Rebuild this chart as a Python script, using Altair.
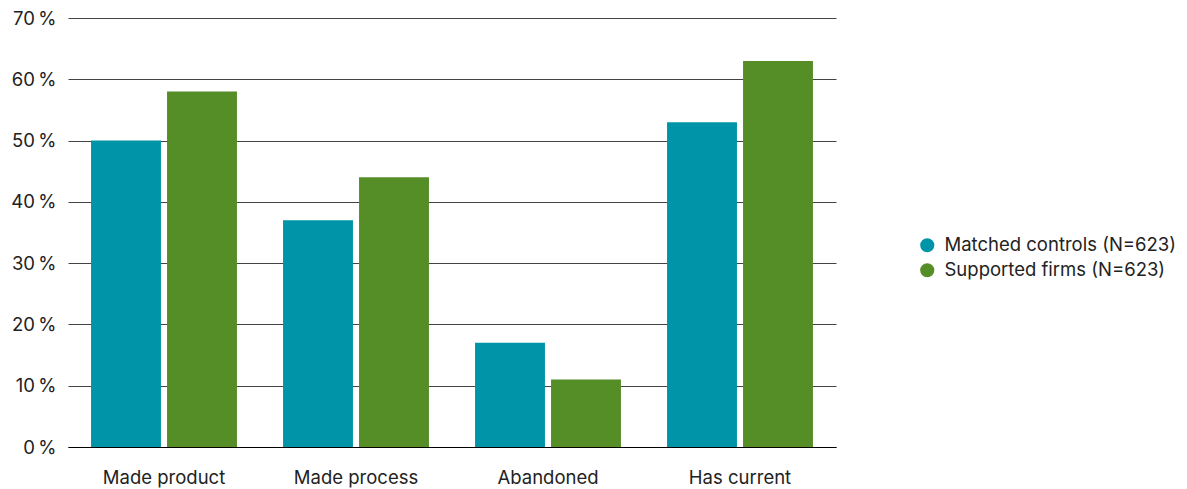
import altair as alt
import pandas as pd

categories = ["Made product", "Made process", "Abandoned", "Has current"]
series = ["Matched controls (N=623)", "Supported firms (N=623)"]
controls = [50, 37, 17, 53]
supported = [58, 44, 11, 63]
colors = ["#0094a8", "#558d27"]

rows = []
for cat, c, s in zip(categories, controls, supported):
    rows.append({"category": cat, "group": series[0], "value": c})
    rows.append({"category": cat, "group": series[1], "value": s})
df = pd.DataFrame(rows)

FONT = "Inter"

chart = (
    alt.Chart(df)
    .mark_bar()
    .encode(
        x=alt.X(
            "category:N",
            sort=categories,
            title=None,
            scale=alt.Scale(paddingInner=0.24, paddingOuter=0.12),
            axis=alt.Axis(
                labelAngle=0,
                labelFontSize=18.5,
                labelColor="#222222",
                labelFont=FONT,
                labelPadding=21,
                ticks=False,
                domainColor="#000000",
                domainWidth=1,
            ),
        ),
        xOffset=alt.XOffset(
            "group:N", sort=series, scale=alt.Scale(paddingInner=0.08, paddingOuter=0)
        ),
        y=alt.Y(
            "value:Q",
            title=None,
            scale=alt.Scale(domain=[0, 70], nice=False),
            axis=alt.Axis(
                values=[0, 10, 20, 30, 40, 50, 60, 70],
                labelExpr="datum.value + '\u2009%'",
                labelFontSize=18.5,
                labelColor="#222222",
                labelFont=FONT,
                labelPadding=12,
                ticks=False,
                domain=False,
                grid=True,
                gridColor="#444444",
                gridWidth=1,
            ),
        ),
        color=alt.Color(
            "group:N",
            sort=series,
            scale=alt.Scale(domain=series, range=colors),
            legend=alt.Legend(
                title=None,
                orient="none",
                legendX=850,
                legendY=218,
                symbolType="circle",
                symbolSize=200,
                symbolStrokeWidth=0,
                labelFontSize=18.5,
                labelFont=FONT,
                labelColor="#222222",
                labelLimit=0,
                rowPadding=6,
                labelOffset=8,
            ),
        ),
    )
    .properties(width=768, height=429)
    .configure_view(stroke=None)
    .properties(
        autosize=alt.AutoSizeParams(type="none"),
        padding={"left": 68, "top": 18, "right": 351, "bottom": 42},
        background="white",
    )
)

chart.save("out.html", embed_options={"renderer": "svg", "actions": False})
